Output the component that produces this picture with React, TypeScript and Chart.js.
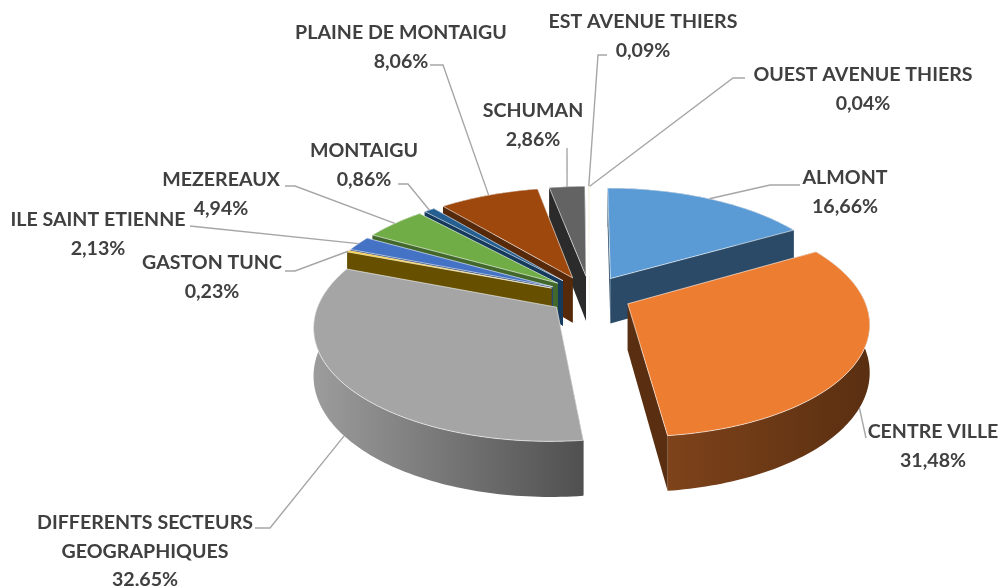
import React, { useEffect, useRef } from "react";
import { Chart, registerables } from "chart.js";

Chart.register(...registerables);

const sectors = [
  "ALMONT", "CENTRE VILLE", "DIFFERENTS SECTEURS GEOGRAPHIQUES", "GASTON TUNC",
  "ILE SAINT ETIENNE", "MEZEREAUX", "MONTAIGU", "PLAINE DE MONTAIGU",
  "SCHUMAN", "EST AVENUE THIERS", "OUEST AVENUE THIERS",
];
const shares = [16.66, 31.48, 32.65, 0.23, 2.13, 4.94, 0.86, 8.06, 2.86, 0.09, 0.04];
const percentLabels = ["16,66%", "31,48%", "32,65%", "0,23%", "2,13%", "4,94%", "0,86%", "8,06%", "2,86%", "0,09%", "0,04%"];
const topColors = ["#5B9BD5", "#ED7D31", "#A5A5A5", "#FFC000", "#4472C4", "#70AD47", "#255E91", "#9E480E", "#636363", "#F2E6C4", "#F2E6C4"];
const wallLeft = ["#2A4A68", "#7E431A", "#9C9C9C", "#665000", "#27457A", "#41672A", "#153A5C", "#55290A", "#2B2B2B", "#F5EEDC", "#F5EEDC"];
const wallRight = ["#2A4A68", "#5A2F11", "#505050", "#665000", "#27457A", "#41672A", "#153A5C", "#55290A", "#2B2B2B", "#F5EEDC", "#F5EEDC"];

const labelLines = [
  ["ALMONT"], ["CENTRE VILLE"], ["DIFFERENTS SECTEURS", "GEOGRAPHIQUES"], ["GASTON TUNC"],
  ["ILE SAINT ETIENNE"], ["MEZEREAUX"], ["MONTAIGU"], ["PLAINE DE MONTAIGU"],
  ["SCHUMAN"], ["EST AVENUE THIERS"], ["OUEST AVENUE THIERS"],
];
// Label layout: text centre x, first-line y, and leader elbow points.
const labelCentreX = [845, 933, 145, 212, 98, 221, 364, 401, 533, 643, 863];
const labelTopY = [178, 432, 523, 263, 220, 180, 151, 33, 111, 22, 75];
const leaderElbows: number[][][] = [
  [[800, 185], [770, 185]],
  [[866, 438]],
  [[255, 528], [270, 528]],
  [[285, 271], [295, 271]],
  [[190, 226]],
  [[285, 186], [295, 186]],
  [[398, 184], [408, 184]],
  [[430, 65], [443, 65]],
  [[567, 148]],
  [[607, 55], [598, 55]],
  [[745, 78], [733, 78]],
];

const PLANE_RADIUS = 235;
const TILT = 0.465;
const PERSPECTIVE = 0.00066;
const DEPTH = 46;
const OFFSET = 131;

function geometry(chart: any) {
  const els = chart.getDatasetMeta(0).data as any[];
  const scale = PLANE_RADIUS / els[0].outerRadius;
  const project = (el: any, angle: number, rho: number, z: number) => {
    const mid = (el.startAngle + el.endAngle) / 2;
    const off = (el.options.offset / 4) * scale;
    const X = Math.cos(mid) * off + Math.cos(angle) * rho * scale;
    const Y = Math.sin(mid) * off + Math.sin(angle) * rho * scale;
    const P = 1 / (1 - PERSPECTIVE * Y);
    return [el.x + X * P, el.y + TILT * Y * P + z * P];
  };
  return { els, project };
}

function rim(el: any, project: any, z: number) {
  const pts: number[][] = [];
  const n = Math.max(2, Math.ceil((el.endAngle - el.startAngle) / 0.02));
  for (let i = 0; i <= n; i++) {
    pts.push(project(el, el.startAngle + ((el.endAngle - el.startAngle) * i) / n, el.outerRadius, z));
  }
  return pts;
}

function poly(ctx: CanvasRenderingContext2D, pts: number[][]) {
  ctx.beginPath();
  pts.forEach((p, i) => (i ? ctx.lineTo(p[0], p[1]) : ctx.moveTo(p[0], p[1])));
  ctx.closePath();
}

const pie3d = {
  id: "pie3d",
  beforeDatasetsDraw(chart: any) {
    const ctx: CanvasRenderingContext2D = chart.ctx;
    const { els, project } = geometry(chart);
    const order = els
      .map((el: any, i: number) => ({ el, i, key: Math.sin((el.startAngle + el.endAngle) / 2) }))
      .sort((a: any, b: any) => a.key - b.key);
    ctx.save();
    for (const { el, i } of order) {
      const topRim = rim(el, project, 0);
      const lowRim = rim(el, project, DEPTH);
      const a0 = project(el, 0, 0, 0);
      const a1 = project(el, 0, 0, DEPTH);
      const xs = topRim.map((p) => p[0]);
      const grad = ctx.createLinearGradient(Math.min(...xs), 0, Math.max(...xs), 0);
      grad.addColorStop(0, wallLeft[i]);
      grad.addColorStop(1, wallRight[i]);
      const outer = [...topRim, ...lowRim.slice().reverse()];
      const startWall = [a0, topRim[0], lowRim[0], a1];
      const endWall = [a0, topRim[topRim.length - 1], lowRim[lowRim.length - 1], a1];
      const faces = [
        { pts: outer, fill: grad as any },
        { pts: startWall, fill: wallRight[i] },
        { pts: endWall, fill: wallRight[i] },
      ].map((f) => ({ ...f, y: f.pts.reduce((s, p) => s + p[1], 0) / f.pts.length }));
      faces.sort((a, b) => a.y - b.y);
      for (const f of faces) {
        poly(ctx, f.pts);
        ctx.fillStyle = f.fill;
        ctx.fill();
      }
      poly(ctx, [a0, ...topRim]);
      ctx.fillStyle = topColors[i];
      ctx.fill();
      ctx.strokeStyle = "rgba(255,255,255,0.6)";
      ctx.lineWidth = 1;
      ctx.lineJoin = "round";
      ctx.stroke();
    }
    ctx.restore();
    return false;
  },
  afterDraw(chart: any) {
    const ctx: CanvasRenderingContext2D = chart.ctx;
    const { els, project } = geometry(chart);
    ctx.save();
    ctx.strokeStyle = "#A6A6A6";
    ctx.lineWidth = 1.4;
    els.forEach((el: any, i: number) => {
      const mid = (el.startAngle + el.endAngle) / 2;
      const end = project(el, mid, el.outerRadius, Math.sin(mid) > 0 ? DEPTH : 0);
      ctx.beginPath();
      leaderElbows[i].forEach((p, k) => (k ? ctx.lineTo(p[0], p[1]) : ctx.moveTo(p[0], p[1])));
      ctx.lineTo(end[0], end[1]);
      ctx.stroke();
    });
    ctx.fillStyle = "#404040";
    ctx.font = "bold 19.6px Lato";
    ctx.textAlign = "center";
    ctx.textBaseline = "middle";
    sectors.forEach((_, i) => {
      const lines = [...labelLines[i], percentLabels[i]];
      lines.forEach((t, k) => ctx.fillText(t, labelCentreX[i], labelTopY[i] + k * 28.5));
    });
    ctx.restore();
  },
};

export default function App() {
  const ref = useRef<HTMLCanvasElement>(null);
  useEffect(() => {
    document.body.style.margin = "0";
    const chart = new Chart(ref.current as HTMLCanvasElement, {
      type: "pie",
      data: {
        labels: sectors,
        datasets: [{ data: shares, backgroundColor: topColors, offset: OFFSET, borderWidth: 0 }],
      },
      options: {
        responsive: false,
        animation: false,
        layout: { padding: { left: 340, right: 158, top: 45, bottom: 41 } },
        plugins: { legend: { display: false }, tooltip: { enabled: false } },
      },
      plugins: [pie3d],
    } as any);
    return () => chart.destroy();
  }, []);
  return <canvas ref={ref} width={998} height={586} style={{ display: "block", background: "#fff" }} />;
}
